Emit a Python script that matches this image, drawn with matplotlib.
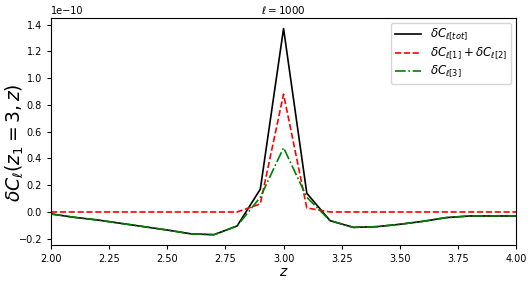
import matplotlib
matplotlib.use("Agg")
import matplotlib.pyplot as plt
import numpy as np

# redshift grid and the three curves (units of 1e-10)
z = [2.0, 2.1, 2.2, 2.3, 2.4, 2.5, 2.6, 2.7, 2.8, 2.9, 3.0,
     3.1, 3.2, 3.3, 3.4, 3.5, 3.6, 3.7, 3.8, 3.9, 4.0]
dcl_tot = [-0.015, -0.04, -0.06, -0.085, -0.11, -0.135, -0.163, -0.17, -0.105, 0.17, 1.37,
           0.14, -0.065, -0.115, -0.11, -0.092, -0.07, -0.042, -0.03, -0.03, -0.03]
dcl_12 = [0.0, 0.0, 0.0, 0.0, 0.0, 0.0, 0.0, 0.0, 0.0, 0.06, 0.88,
          0.03, 0.0, 0.0, 0.0, 0.0, 0.0, 0.0, 0.0, 0.0, 0.0]
dcl_3 = [-0.015, -0.04, -0.06, -0.085, -0.11, -0.135, -0.163, -0.17, -0.105, 0.11, 0.48,
         0.11, -0.065, -0.115, -0.11, -0.092, -0.07, -0.042, -0.03, -0.03, -0.03]

scale = 1e-10

fig = plt.figure(figsize=(5.32, 2.81), dpi=100)
ax = fig.add_axes([0.096, 0.128, 0.874, 0.807])
ax.plot(z, np.array(dcl_tot) * scale, "k-", lw=1.2, label=r"$\delta C_{\ell[tot]}$")
ax.plot(z, np.array(dcl_12) * scale, "r--", lw=1.2,
        label=r"$\delta C_{\ell[1]}+\delta C_{\ell[2]}$")
ax.plot(z, np.array(dcl_3) * scale, "g-.", lw=1.2, label=r"$\delta C_{\ell[3]}$")

ax.set_xlim(2.0, 4.0)
ax.set_xticks([2.0, 2.25, 2.5, 2.75, 3.0, 3.25, 3.5, 3.75, 4.0])
ax.set_yticks(np.arange(-0.2, 1.41, 0.2) * scale)
ax.tick_params(labelsize=7, length=3)
ax.yaxis.get_offset_text().set_fontsize(7)
ax.set_xlabel(r"$z$", fontsize=10, labelpad=1)
ax.set_ylabel(r"$\delta C_\ell(z_1=3,z)$", fontsize=13.5)
ax.yaxis.set_label_coords(-0.054, 0.45)
ax.set_title(r"$\ell=1000$", fontsize=7.5, pad=3)
ax.legend(loc="upper right", fontsize=8.5, handlelength=2.2,
          labelspacing=0.2, borderpad=0.35, borderaxespad=0.4)

fig.savefig("out.png", dpi=100)
